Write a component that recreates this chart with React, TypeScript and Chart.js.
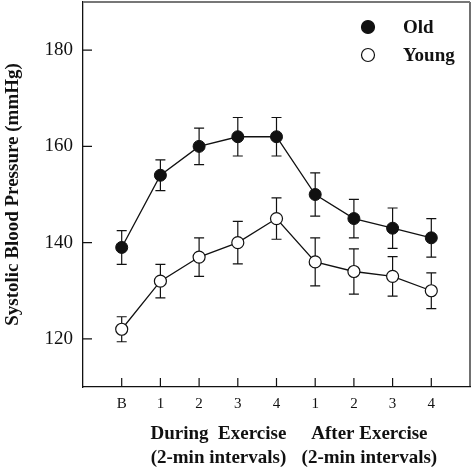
import React, { useEffect, useRef } from "react";
import { Chart, registerables } from "chart.js";

Chart.register(...registerables);

const categories = ["B", "1", "2", "3", "4", "1", "2", "3", "4"];
const oldMean = [139, 154, 160, 162, 162, 150, 145, 143, 141];
const oldErr = [3.5, 3.2, 3.8, 4, 4, 4.5, 4, 4.2, 4];
const youngMean = [122, 132, 137, 140, 145, 136, 134, 133, 130];
const youngErr = [2.6, 3.5, 4, 4.4, 4.3, 5, 4.7, 4.1, 3.7];
const yTicks = [120, 140, 160, 180];
const groupLine1 = ["During  Exercise", "After Exercise"];
const groupLine2 = ["(2-min intervals)", "(2-min intervals)"];
const groupCenters = [2.5, 6.4];
const yTitle = "Systolic Blood Pressure (mmHg)";
const seriesNames = ["Old", "Young"];

const SERIF = "'Liberation Serif', 'Times New Roman', serif";

const overlay = {
  id: "overlay",
  beforeDatasetsDraw(chart: any) {
    const ctx = chart.ctx;
    const xs = chart.scales.x;
    const ys = chart.scales.y;
    const sets = [
      [oldMean, oldErr],
      [youngMean, youngErr],
    ];
    ctx.save();
    ctx.strokeStyle = "#111";
    ctx.lineWidth = 1.2;
    sets.forEach(([m, e]) => {
      m.forEach((v: number, i: number) => {
        const x = xs.getPixelForValue(i);
        const yt = ys.getPixelForValue(v + e[i]);
        const yb = ys.getPixelForValue(v - e[i]);
        ctx.beginPath();
        ctx.moveTo(x, yt);
        ctx.lineTo(x, yb);
        ctx.moveTo(x - 5, yt);
        ctx.lineTo(x + 5, yt);
        ctx.moveTo(x - 5, yb);
        ctx.lineTo(x + 5, yb);
        ctx.stroke();
      });
    });
    ctx.restore();
  },
  afterDraw(chart: any) {
    const ctx = chart.ctx;
    const xs = chart.scales.x;
    const ys = chart.scales.y;
    const a = chart.chartArea;
    ctx.save();
    // inward ticks
    ctx.strokeStyle = "#111";
    ctx.lineWidth = 1.2;
    ctx.beginPath();
    yTicks.forEach((t) => {
      const y = ys.getPixelForValue(t);
      ctx.moveTo(a.left, y);
      ctx.lineTo(a.left + 9, y);
    });
    categories.forEach((_, i) => {
      const x = xs.getPixelForValue(i);
      ctx.moveTo(x, a.bottom);
      ctx.lineTo(x, a.bottom - 9);
    });
    ctx.stroke();
    // frame right
    ctx.beginPath();
    ctx.moveTo(a.right, a.top);
    ctx.lineTo(a.right, a.bottom);
    ctx.stroke();
    // frame top
    ctx.strokeStyle = "#777";
    ctx.lineWidth = 2;
    ctx.beginPath();
    ctx.moveTo(a.left, a.top);
    ctx.lineTo(a.right, a.top);
    ctx.stroke();

    ctx.fillStyle = "#111";
    // y title
    ctx.save();
    ctx.font = `bold 19px ${SERIF}`;
    ctx.translate(18, (a.top + a.bottom) / 2);
    ctx.rotate(-Math.PI / 2);
    ctx.textAlign = "center";
    ctx.textBaseline = "alphabetic";
    ctx.fillText(yTitle, 0, 0);
    ctx.restore();

    // group labels
    ctx.font = `bold 19px ${SERIF}`;
    ctx.textAlign = "center";
    ctx.textBaseline = "alphabetic";
    groupCenters.forEach((c, i) => {
      const x = xs.getPixelForValue(c);
      ctx.fillText(groupLine1[i], x, 439);
      ctx.fillText(groupLine2[i], x, 463);
    });

    // legend
    const mx = 368;
    const rows = [27, 55];
    ctx.textAlign = "left";
    ctx.textBaseline = "middle";
    rows.forEach((y, i) => {
      ctx.beginPath();
      ctx.arc(mx, y, 6.5, 0, Math.PI * 2);
      ctx.fillStyle = i === 0 ? "#111" : "#fff";
      ctx.fill();
      ctx.lineWidth = 1.2;
      ctx.strokeStyle = "#111";
      ctx.stroke();
      ctx.fillStyle = "#111";
      ctx.fillText(seriesNames[i], 403, y + 1);
    });
    ctx.restore();
  },
};

export default function App() {
  const ref = useRef<HTMLCanvasElement | null>(null);
  useEffect(() => {
    if (!ref.current) return;
    const chart = new Chart(ref.current, {
      type: "line",
      data: {
        datasets: [
          {
            label: seriesNames[0],
            data: oldMean.map((y, i) => ({ x: i, y })),
            borderColor: "#111",
            borderWidth: 1.3,
            backgroundColor: "#111",
            pointBackgroundColor: "#111",
            pointBorderColor: "#111",
            pointRadius: 6,
            pointBorderWidth: 1,
            tension: 0,
          },
          {
            label: seriesNames[1],
            data: youngMean.map((y, i) => ({ x: i, y })),
            borderColor: "#111",
            borderWidth: 1.3,
            backgroundColor: "#fff",
            pointBackgroundColor: "#fff",
            pointBorderColor: "#111",
            pointRadius: 6,
            pointBorderWidth: 1.2,
            tension: 0,
          },
        ],
      },
      options: {
        animation: false,
        responsive: true,
        maintainAspectRatio: false,
        layout: { autoPadding: false, padding: { top: 2, right: 4, left: 0, bottom: 0 } },
        plugins: {
          legend: { display: false },
          tooltip: { enabled: false },
        },
        scales: {
          x: {
            type: "linear",
            min: -1,
            max: 9,
            afterFit: (s: any) => {
              s.height = 83;
              s.paddingLeft = 0;
              s.paddingRight = 0;
            },
            afterBuildTicks: (s: any) => {
              s.ticks = categories.map((_, i) => ({ value: i }));
            },
            grid: { display: false, drawTicks: false },
            border: { display: true, color: "#111", width: 1.3 },
            ticks: {
              padding: 8,
              color: "#111",
              font: { family: SERIF, size: 15 },
              maxRotation: 0,
              autoSkip: false,
              callback: (v: any) => categories[Number(v)] ?? "",
            },
          },
          y: {
            min: 110,
            max: 190,
            afterFit: (s: any) => {
              s.width = 83;
              s.paddingTop = 0;
              s.paddingBottom = 0;
            },
            afterBuildTicks: (s: any) => {
              s.ticks = yTicks.map((v) => ({ value: v }));
            },
            grid: { display: false, drawTicks: false },
            border: { display: true, color: "#111", width: 1.3 },
            ticks: {
              padding: 10,
              color: "#111",
              font: { family: SERIF, size: 19 },
              callback: (v: any) => String(v),
            },
          },
        },
      },
      plugins: [overlay],
    });
    return () => chart.destroy();
  }, []);
  return (
    <div style={{ position: "absolute", left: 0, top: 0, width: 474, height: 470, background: "#fff" }}>
      <canvas ref={ref} />
    </div>
  );
}
